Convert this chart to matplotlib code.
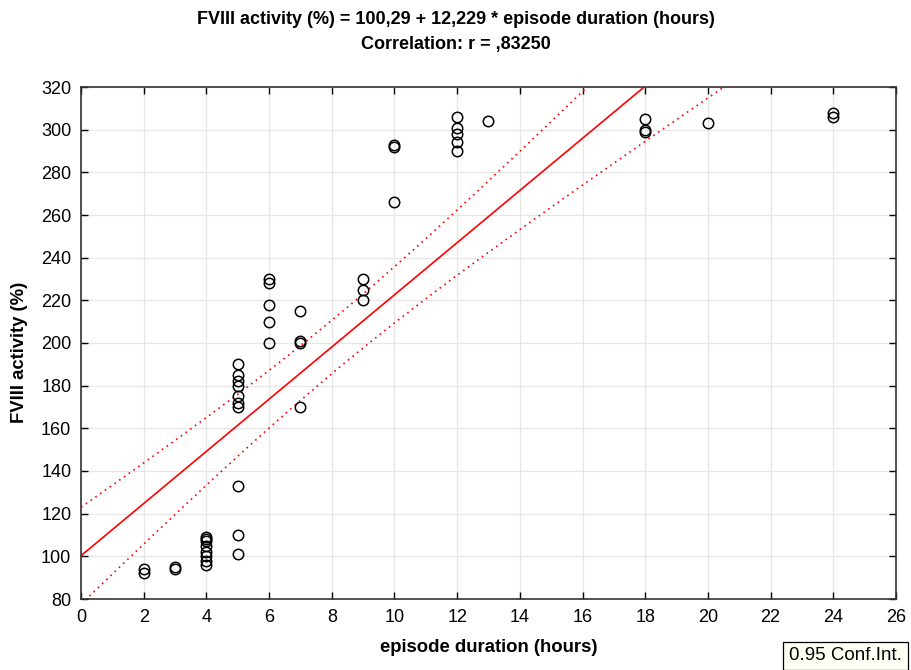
import numpy as np
import matplotlib
matplotlib.use('Agg')
import matplotlib.pyplot as plt

plt.rcParams['font.family'] = ['Liberation Sans', 'DejaVu Sans']

# episode duration (hours) and FVIII activity (%) per observation
duration = [2, 2, 3, 3,
            4, 4, 4, 4, 4, 4, 4, 4,
            5, 5, 5, 5, 5, 5, 5, 5, 5, 5,
            6, 6, 6, 6, 6,
            7, 7, 7, 7,
            9, 9, 9,
            10, 10, 10,
            12, 12, 12, 12, 12,
            13,
            18, 18, 18,
            20,
            24, 24]
activity = [92, 94, 94, 95,
            96, 98, 100, 102, 105, 107, 108, 109,
            101, 110, 133, 170, 172, 175, 180, 182, 185, 190,
            200, 210, 218, 228, 230,
            170, 200, 201, 215,
            220, 225, 230,
            266, 292, 293,
            290, 294, 298, 301, 306,
            304,
            299, 300, 305,
            303,
            306, 308]

intercept = 100.29
slope = 12.229
r_value = 0.83250

x = np.array(duration, dtype=float)
y = np.array(activity, dtype=float)
n = len(x)
resid = y - (intercept + slope * x)
s = np.sqrt(np.sum(resid ** 2) / (n - 2))
sxx = np.sum((x - x.mean()) ** 2)
t_crit = 2.01

xs = np.linspace(0, 26, 300)
fit = intercept + slope * xs
half = t_crit * s * np.sqrt(1.0 / n + (xs - x.mean()) ** 2 / sxx)

fig = plt.figure(figsize=(9.12, 6.7), dpi=100)
ax = fig.add_axes([81 / 912, 1 - 599 / 670, 815 / 912, 512 / 670])

ax.plot(x, y, 'o', mfc='none', mec='black', ms=7.5, mew=1.1, zorder=3)
ax.plot(xs, fit, color='red', lw=1.2, zorder=2)
ax.plot(xs, fit + half, color='red', lw=1.2, ls=(0, (1, 2.5)), zorder=2)
ax.plot(xs, fit - half, color='red', lw=1.2, ls=(0, (1, 2.5)), zorder=2)

ax.set_xlim(0, 26)
ax.set_ylim(80, 320)
ax.set_xticks(range(0, 27, 2))
ax.set_yticks(range(80, 321, 20))
ax.grid(True, color='#e6e6e6', lw=0.9)
ax.set_axisbelow(True)
ax.tick_params(direction='in', top=True, right=True, labelsize=13, length=5,
               width=1, pad=7)
for sp in ax.spines.values():
    sp.set_linewidth(1.2)
    sp.set_color('#333333')

ax.set_xlabel('episode duration (hours)', fontsize=13.3, fontweight='bold')
ax.set_ylabel('FVIII activity (%)', fontsize=13.3, fontweight='bold')
ax.xaxis.set_label_coords(0.5, -(648 - 599) / 512)
ax.yaxis.set_label_coords(-(81 - 20) / 815, (599 - 352) / 512)
ax.xaxis.label.set_va('center')
ax.yaxis.label.set_va('center')

fig.text(0.5, 1 - 20 / 670,
         'FVIII activity (%) = 100,29 + 12,229 * episode duration (hours)',
         ha='center', va='center', fontsize=13, fontweight='bold')
fig.text(0.5, 1 - 45 / 670, 'Correlation: r = ,83250',
         ha='center', va='center', fontsize=13, fontweight='bold')

fig.text(789 / 912, 1 - 656 / 670, '0.95 Conf.Int.', ha='left', va='center',
         fontsize=13.5,
         bbox=dict(boxstyle='square,pad=0.3', fc='#fffff5', ec='black', lw=0.9))

fig.savefig('out.png', dpi=100)
